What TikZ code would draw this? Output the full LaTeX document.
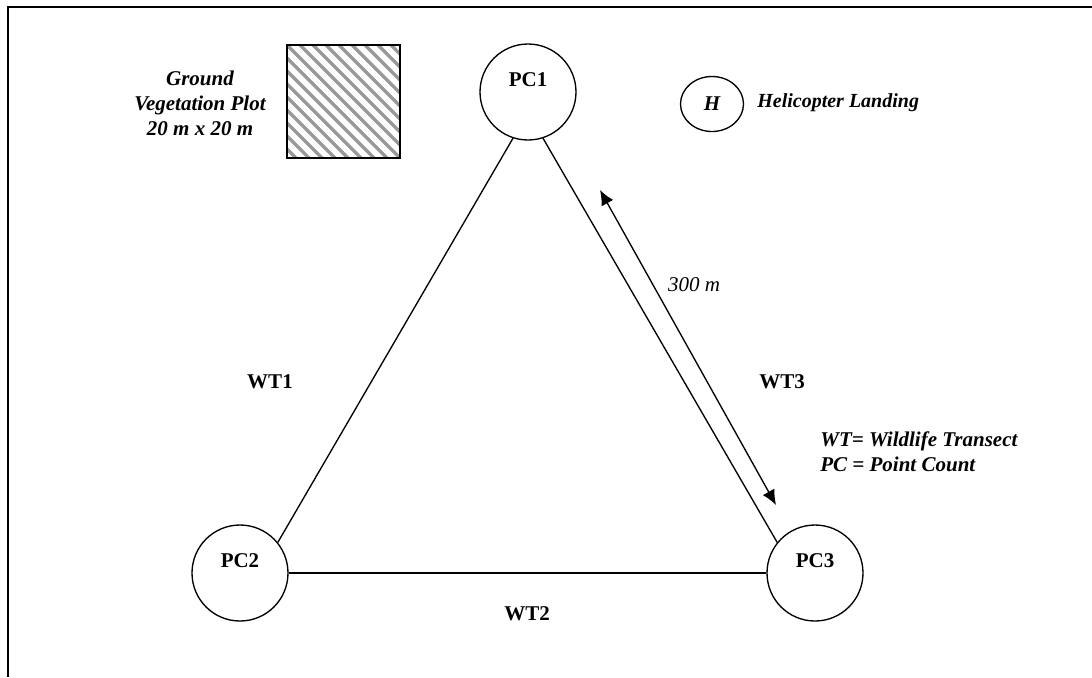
\documentclass[tikz,border=0pt]{standalone}
\usepackage{fontspec}
\setmainfont{Liberation Serif}
\usetikzlibrary{shapes.geometric,positioning,arrows.meta}
\tikzset{pc/.style={circle,draw,line width=0.8pt,inner sep=0pt,minimum size=57.6pt},
         pclabel/.style={font=\bfseries,yshift=7.5pt},
         hatch/.style={draw=black!40,line width=2.1pt},
         note/.style={font=\bfseries\itshape,align=center}}

\begin{document}
\fontsize{12.6}{15}\selectfont
\begin{tikzpicture}[x=0.6pt,y=-0.6pt]
\useasboundingbox (0,0) rectangle (1092,677);
\draw[line width=1.6pt] (8,677) -- (8,7) -- (1092,7);

% point counts
\node[pc,label={[pclabel]center:PC1}] (pc1) at (528,92) {};
\node[pc,label={[pclabel]center:PC2}] (pc2) at (240,573) {};
\node[pc,label={[pclabel]center:PC3}] (pc3) at (815,573) {};

% transects
\draw[line width=0.8pt] (pc1.-108) -- (pc2.39);
\draw[line width=0.8pt] (pc1.-72) -- (pc3.141);
\draw[line width=0.8pt] (pc2.east) -- (pc3.west);
\node[font=\bfseries] (wt1) at (270,382) {WT1};
\node[font=\bfseries] (wt3) at (782,382) {WT3};
\node[font=\bfseries] (wt2) at (527,614) {WT2};

% distance
\coordinate (d1) at (600,190);
\coordinate (d2) at (776,505);
\draw[line width=0.8pt,{Latex[length=9pt,width=8pt]}-{Latex[length=9pt,width=8pt]}] (d1) -- (d2);
\node[font=\itshape] (dist) at (694,285) {300 m};

% vegetation plot
\begin{scope}
\clip (287,45) rectangle (400,158);
\foreach \i in {-130,-117,...,120}
  \draw[hatch] (287+\i,45) -- ++(113,113);
\end{scope}
\draw[line width=1.2pt] (287,45) rectangle (400,158);
\node[note] (plot) at (200,103) {Ground\\Vegetation Plot\\20 m x 20 m};

% helicopter
\node[ellipse,draw,line width=0.8pt,minimum width=37.8pt,minimum height=33pt,inner sep=0pt,font=\bfseries\itshape] (heli) at (712,104) {H};
\node[font=\fontsize{12}{14}\selectfont\bfseries\itshape,anchor=west,inner sep=0pt] (helitext) at (757,103) {Helicopter Landing};

% legend
\node[note,align=left,anchor=west,inner sep=0pt] (legend) at (820,452) {WT= Wildlife Transect\\PC = Point Count};
\end{tikzpicture}
\end{document}
